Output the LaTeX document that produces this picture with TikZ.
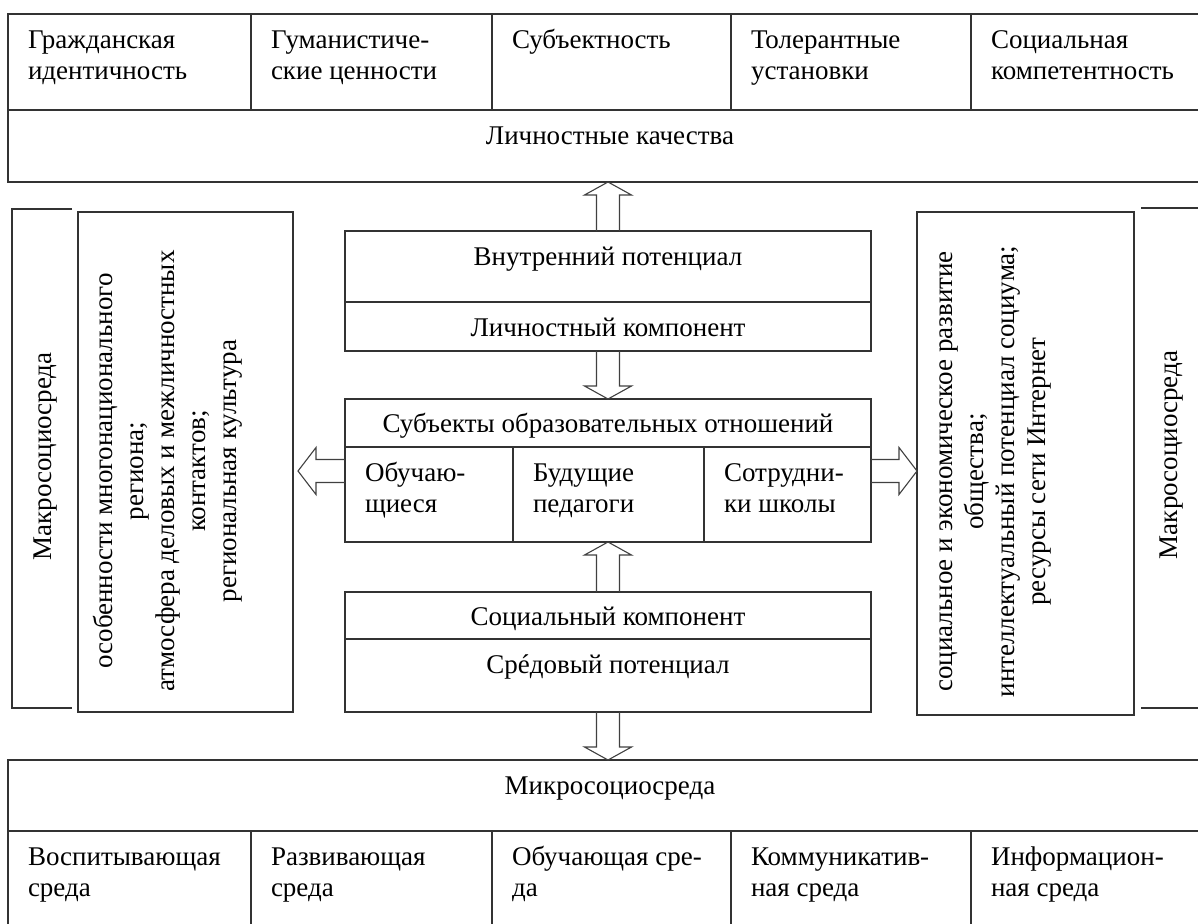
\documentclass[tikz,border=0pt]{standalone}
\usepackage{fontspec}
\setmainfont{Liberation Serif}
\usetikzlibrary{calc}
\newcommand\harrowup[2]{\draw[harrow] ($(#1)+(-11.5,0)$) -- ($(#2)+(-11.5,13)$) -- ($(#2)+(-23.5,13)$) -- (#2) -- ($(#2)+(23.5,13)$) -- ($(#2)+(11.5,13)$) -- ($(#1)+(11.5,0)$);}
\newcommand\harrowdown[2]{\draw[harrow] ($(#1)+(-11.5,0)$) -- ($(#2)+(-11.5,-13)$) -- ($(#2)+(-23.5,-13)$) -- (#2) -- ($(#2)+(23.5,-13)$) -- ($(#2)+(11.5,-13)$) -- ($(#1)+(11.5,0)$);}
\newcommand\harrowleft[2]{\draw[harrow] ($(#1)+(0,-11.5)$) -- ($(#2)+(18,-11.5)$) -- ($(#2)+(18,-23.5)$) -- (#2) -- ($(#2)+(18,23.5)$) -- ($(#2)+(18,11.5)$) -- ($(#1)+(0,11.5)$);}
\newcommand\harrowright[2]{\draw[harrow] ($(#1)+(0,-11.5)$) -- ($(#2)+(-18,-11.5)$) -- ($(#2)+(-18,-23.5)$) -- (#2) -- ($(#2)+(-18,23.5)$) -- ($(#2)+(-18,11.5)$) -- ($(#1)+(0,11.5)$);}
\begin{document}
\begin{tikzpicture}[x=1pt,y=-1pt,
  box/.style={draw=black!80, line width=1.2pt, rectangle, inner sep=0pt, outer sep=0pt, anchor=north west},
  frame/.style={rectangle, inner sep=0pt, outer sep=0pt, anchor=north west},
  bline/.style={draw=black!80, line width=1.2pt},
  txt/.style={inner sep=0pt, outer sep=0pt, font=\fontsize{27}{31}\selectfont},
  ltxt/.style={txt, anchor=north west, align=left},
  ctxt/.style={txt, anchor=north, align=center},
  rtxt/.style={txt, rotate=90, anchor=north, align=center},
  mtxt/.style={inner sep=0pt, outer sep=0pt, font=\fontsize{27}{31}\selectfont, rotate=90},
  harrow/.style={draw=black!75, line width=1.1pt, line join=miter}]
\useasboundingbox (0,0) rectangle (1198,923);
\clip (0,0) rectangle (1198,923);
% top table
\node[box, minimum width=243pt, minimum height=96pt] (c1) at (8,14) {};
\node[box, minimum width=241pt, minimum height=96pt] (c2) at (251,14) {};
\node[box, minimum width=239pt, minimum height=96pt] (c3) at (492,14) {};
\node[box, minimum width=240pt, minimum height=96pt] (c4) at (731,14) {};
\node[box, minimum width=241pt, minimum height=96pt] (c5) at (971,14) {};
\node[box, minimum width=1204pt, minimum height=72pt] (lq) at (8,110) {};
\node[ltxt] (tc1) at ($(c1.north west)+(20,13)$) {\strut Гражданская\\идентичность};
\node[ltxt] (tc2) at ($(c2.north west)+(20,13)$) {\strut Гуманистиче-\\ские ценности};
\node[ltxt] (tc3) at ($(c3.north west)+(20,13)$) {\strut Субъектность};
\node[ltxt] (tc4) at ($(c4.north west)+(20,13)$) {\strut Толерантные\\установки};
\node[ltxt] (tc5) at ($(c5.north west)+(20,13)$) {\strut Социальная\\компетентность};
\node[ctxt] (tlq) at ($(lq.north)+(0,13)$) {\strut Личностные качества};
% central column
\node[box, minimum width=526pt, minimum height=71pt] (vp) at (345,231) {};
\node[box, minimum width=526pt, minimum height=49pt] (lc) at (345,302) {};
\node[box, minimum width=526pt, minimum height=48pt] (se) at (345,399) {};
\node[box, minimum width=168pt, minimum height=95pt] (s1) at (345,447) {};
\node[box, minimum width=191pt, minimum height=95pt] (s2) at (513,447) {};
\node[box, minimum width=167pt, minimum height=95pt] (s3) at (704,447) {};
\node[box, minimum width=526pt, minimum height=47pt] (sc) at (345,592) {};
\node[box, minimum width=526pt, minimum height=73pt] (sp) at (345,639) {};
\node[ctxt] (tvp) at ($(vp.north)+(0,13)$) {\strut Внутренний потенциал};
\node[ctxt] (tlc) at ($(lc.north)+(0,13)$) {\strut Личностный компонент};
\node[ctxt] (tse) at ($(se.north)+(0,12)$) {\strut Субъекты образовательных отношений};
\node[ltxt] (ts1) at ($(s1.north west)+(20,13)$) {\strut Обучаю-\\щиеся};
\node[ltxt] (ts2) at ($(s2.north west)+(20,13)$) {\strut Будущие\\педагоги};
\node[ltxt] (ts3) at ($(s3.north west)+(20,13)$) {\strut Сотрудни-\\ки школы};
\node[ctxt] (tsc) at ($(sc.north)+(0,12)$) {\strut Социальный компонент};
\node[ctxt] (tsp) at ($(sp.north)+(0,13)$) {\strut Срéдовый потенциал};
% bottom table
\node[box, minimum width=1204pt, minimum height=71pt] (mi) at (8,760) {};
\node[box, minimum width=243pt, minimum height=120pt] (b1) at (8,831) {};
\node[box, minimum width=241pt, minimum height=120pt] (b2) at (251,831) {};
\node[box, minimum width=239pt, minimum height=120pt] (b3) at (492,831) {};
\node[box, minimum width=240pt, minimum height=120pt] (b4) at (731,831) {};
\node[box, minimum width=241pt, minimum height=120pt] (b5) at (971,831) {};
\node[ctxt] (tmi) at ($(mi.north)+(0,13)$) {\strut Микросоциосреда};
\node[ltxt] (tb1) at ($(b1.north west)+(20,13)$) {\strut Воспитывающая\\среда};
\node[ltxt] (tb2) at ($(b2.north west)+(20,13)$) {\strut Развивающая\\среда};
\node[ltxt] (tb3) at ($(b3.north west)+(20,13)$) {\strut Обучающая сре-\\да};
\node[ltxt] (tb4) at ($(b4.north west)+(20,13)$) {\strut Коммуникатив-\\ная среда};
\node[ltxt] (tb5) at ($(b5.north west)+(20,13)$) {\strut Информацион-\\ная среда};
% left side
\node[frame, minimum width=60pt, minimum height=499pt] (lo) at (12,209) {};
\draw[bline] (lo.north east) -- (lo.north west) -- (lo.south west) -- (lo.south east);
\node[mtxt] (tlo) at ($(lo.center)+(4,-2)$) {Макросоциосреда};
\node[box, minimum width=215pt, minimum height=500pt] (li) at (78,212) {};
\node[rtxt] (tli) at ($(li.west)+(13,9)$) {\strut особенности многонационального\\региона;\\атмосфера деловых и межличностных\\контактов;\\региональная культура};
% right side
\node[box, minimum width=217pt, minimum height=503pt] (ri) at (917,212) {};
\node[rtxt] (tri) at ($(ri.west)+(14,8)$) {\strut социальное и экономическое развитие\\общества;\\интеллектуальный потенциал социума;\\ресурсы сети Интернет};
\node[frame, minimum width=70pt, minimum height=500pt] (ro) at (1141,208) {};
\draw[bline] (ro.north west) -- (ro.north east);
\draw[bline] (ro.south west) -- (ro.south east);
\node[mtxt] (tro) at ($(ro.center)+(-4,-3)$) {Макросоциосреда};
% arrows
\coordinate (a1t) at (vp.north |- lq.south);
\harrowup{vp.north}{a1t}
\coordinate (a2t) at (lc.south |- se.north);
\harrowdown{lc.south}{a2t}
\coordinate (a3t) at (sc.north |- s1.south);
\harrowup{sc.north}{a3t}
\coordinate (a4t) at (sp.south |- mi.north);
\harrowdown{sp.south}{a4t}
\coordinate (a5s) at ($(s1.north west)+(0,24)$);
\coordinate (a5t) at ($(a5s -| li.east)+(5,0)$);
\harrowleft{a5s}{a5t}
\coordinate (a6s) at ($(s3.north east)+(0,24)$);
\coordinate (a6t) at (a6s -| ri.west);
\harrowright{a6s}{a6t}
\end{tikzpicture}
\end{document}
